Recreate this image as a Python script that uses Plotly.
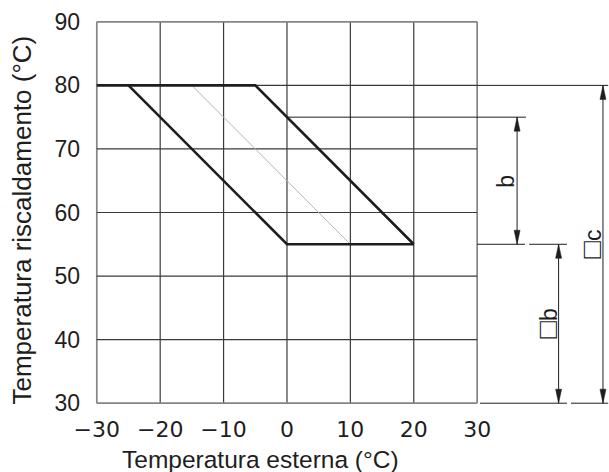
import plotly.graph_objects as go

# Axis ticks
x_ticks = [-30, -20, -10, 0, 10, 20, 30]
y_ticks = [30, 40, 50, 60, 70, 80, 90]
x_ticklabels = ["−30", "−20", "−10", "0", "10", "20", "30"]
y_ticklabels = ["30", "40", "50", "60", "70", "80", "90"]

# Heating curve band: outdoor temperature -> flow temperature
upper_x = [-30, -5, 20]
upper_y = [80, 80, 55]
lower_x = [-25, 0, 20]
lower_y = [80, 55, 55]
mid_x = [-15, 10]
mid_y = [80, 55]

# Dimension levels (flow temperature, °C)
t_max = 80
t_mid = 75
t_min = 55
t_base = 30
dim_labels = ["b", "□b", "□c"]

# ---- layout geometry ----
W, H = 609, 472
ML, MR, MT, MB = 93, 0, 18, 65
XR = [-30.6, 50.8]
YR = [29.4, 90.6]
pw, ph = W - ML - MR, H - MT - MB
px_x = pw / (XR[1] - XR[0])   # pixels per x unit
px_y = ph / (YR[1] - YR[0])   # pixels per y unit

INK = "#1e1e1e"
GRID = "#3a3a3a"
EDGE = "#858585"

xmin, xmax = x_ticks[0], x_ticks[-1]
ymin, ymax = y_ticks[0], y_ticks[-1]

shapes = []

# grid
for xv in x_ticks:
    edge = xv in (xmin, xmax)
    shapes.append(dict(type="line", xref="x", yref="y", x0=xv, x1=xv, y0=ymin, y1=ymax,
                       line=dict(color=EDGE if edge else GRID, width=1.7 if edge else 1.2),
                       layer="below"))
for yv in y_ticks:
    edge = yv in (ymin, ymax)
    shapes.append(dict(type="line", xref="x", yref="y", x0=xmin, x1=xmax, y0=yv, y1=yv,
                       line=dict(color=EDGE if edge else GRID, width=1.7 if edge else 1.2),
                       layer="below"))


def hline(y, x0, x1, color=INK, width=1):
    shapes.append(dict(type="line", xref="x", yref="y", x0=x0, x1=x1, y0=y, y1=y,
                       line=dict(color=color, width=width)))


def dim_arrow(x, y0, y1):
    # shaft plus filled arrowheads at both ends
    shapes.append(dict(type="line", xref="x", yref="y", x0=x, x1=x, y0=y0, y1=y1,
                       line=dict(color=INK, width=1)))
    L = 14 / px_y
    w = 3 / px_x
    for tip, d in ((y1, 1), (y0, -1)):
        base = tip - d * L
        shapes.append(dict(type="path", xref="x", yref="y",
                           path=f"M {x},{tip} L {x - w},{base} L {x + w},{base} Z",
                           fillcolor=INK, line=dict(color=INK, width=0.5)))


def dim_text(label):
    # enlarge the leading box symbol so it stands as tall as the letter
    if label.startswith("□"):
        return f"<span style='font-size:29px'>{label[0]}</span>{label[1:]}"
    return label


# extension lines
hline(t_max, xmax, 50.67)
hline(t_mid, lower_x[1], 37.7)
hline(t_min, xmax, 37.55)
hline(t_min, 38.2, 44.17)
hline(t_base, 30.45, 44.17)
hline(t_base, 44.8, 50.67)

# dimension arrows
dim_arrow(36.3, t_min, t_mid)
dim_arrow(42.85, t_base, t_min)
dim_arrow(49.85, t_base, t_max)

fig = go.Figure()
fig.add_trace(go.Scatter(x=mid_x, y=mid_y, mode="lines",
                         line=dict(color="#b4b4b4", width=1), hoverinfo="skip"))
fig.add_trace(go.Scatter(x=upper_x, y=upper_y, mode="lines",
                         line=dict(color=INK, width=2.6), hoverinfo="skip"))
fig.add_trace(go.Scatter(x=lower_x, y=lower_y, mode="lines",
                         line=dict(color=INK, width=2.6), hoverinfo="skip"))

SANS = "Liberation Sans, Arial, sans-serif"
lab_font = dict(family=SANS, size=23, color=INK)
annotations = [
    dict(x=34.55, y=(t_min + t_mid) / 2, xref="x", yref="y", text=dim_text(dim_labels[0]),
         textangle=-90, showarrow=False, font=lab_font),
    dict(x=41.0, y=(t_base + t_min) / 2, xref="x", yref="y", text=dim_text(dim_labels[1]),
         textangle=-90, showarrow=False, font=lab_font),
    dict(x=48.0, y=(t_base + t_max) / 2, xref="x", yref="y", text=dim_text(dim_labels[2]),
         textangle=-90, showarrow=False, font=lab_font),
    dict(x=(260 - ML) / pw, y=(H - MB - 459) / ph, xref="paper", yref="paper",
         xanchor="center", yanchor="middle",
         text="Temperatura esterna (°C)", showarrow=False,
         font=dict(family=SANS, size=24.5, color=INK)),
    dict(x=(21.5 - ML) / pw, y=(H - MB - 220) / ph, xref="paper", yref="paper",
         xanchor="center", yanchor="middle",
         text="Temperatura riscaldamento (°C)", textangle=-90, showarrow=False,
         font=dict(family=SANS, size=26, color=INK)),
]

fig.update_layout(
    width=W, height=H,
    margin=dict(l=ML, r=MR, t=MT, b=MB, pad=0),
    plot_bgcolor="white", paper_bgcolor="white",
    showlegend=False,
    shapes=shapes,
    annotations=annotations,
    xaxis=dict(range=XR, showgrid=False, zeroline=False, showline=False,
               tickmode="array", tickvals=x_ticks, ticktext=x_ticklabels,
               ticks="", ticklabelstandoff=7,
               tickfont=dict(family="DejaVu Sans, sans-serif", size=22, color=INK)),
    yaxis=dict(range=YR, showgrid=False, zeroline=False, showline=False,
               tickmode="array", tickvals=y_ticks, ticktext=y_ticklabels,
               ticks="", ticklabelstandoff=12,
               tickfont=dict(family=SANS, size=23, color=INK)),
)

fig.write_html("out.html")
